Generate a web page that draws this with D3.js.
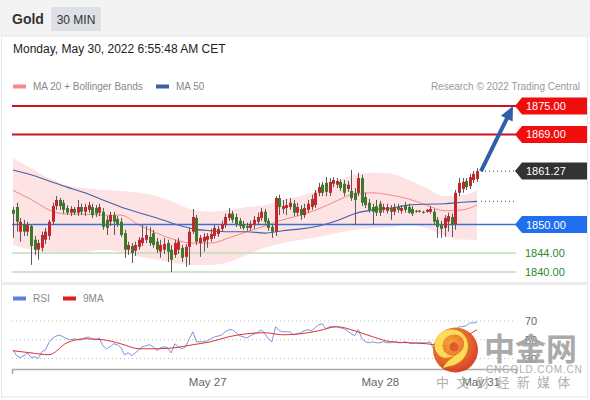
<!DOCTYPE html>
<html><head><meta charset="utf-8">
<script src="https://cdn.jsdelivr.net/npm/d3@7"></script>
<style>body{margin:0;background:#fff;} svg{display:block;font-family:"Liberation Sans",Arial,sans-serif;}</style>
</head><body><svg id="c" width="590" height="400"></svg>
<script>
// ---- DATA ----
const open=[1853.1,1853.7,1848.5,1850.1,1848.5,1849.7,1846.8,1844.7,1845.1,1846.8,
1847.6,1850.6,1853.9,1855.2,1854.6,1853.5,1852.5,1853.3,1852.5,1853.7,
1852.7,1853.1,1853.7,1853.5,1852.5,1852.7,1851.0,1850.6,1852.0,1851.2,
1850.6,1848.2,1844.7,1845.5,1844.5,1845.3,1846.1,1846.8,1847.4,1848.2,
1846.4,1844.3,1844.7,1846.1,1844.7,1843.6,1844.7,1845.1,1843.2,1845.3,
1848.5,1851.4,1846.1,1846.4,1846.8,1847.0,1847.6,1848.0,1849.1,1849.9,
1851.4,1852.3,1851.6,1850.8,1850.1,1849.7,1849.3,1849.9,1850.6,1851.4,
1852.7,1850.8,1849.5,1848.5,1855.6,1853.3,1853.5,1853.7,1854.4,1852.5,
1853.3,1852.0,1853.1,1853.7,1854.1,1856.7,1858.4,1858.8,1856.7,1858.6,
1858.4,1859.0,1858.6,1857.5,1857.1,1856.7,1856.7,1859.8,1855.8,1854.6,
1853.7,1853.9,1854.4,1853.1,1852.9,1853.5,1852.7,1853.7,1852.9,1854.1,
1853.7,1853.3,1852.9,1852.7,1852.7,1852.7,1852.7,1852.7,1851.0,1849.9,
1849.3,1850.6,1851.6,1850.1,1856.7,1857.5,1859.2,1858.1,1859.4,1859.6];
const high=[1853.7,1854.6,1851.4,1851.0,1850.6,1850.1,1847.6,1846.8,1848.5,1849.3,
1851.0,1854.6,1856.0,1855.6,1855.2,1854.1,1853.9,1853.7,1855.2,1854.4,
1854.4,1854.8,1854.4,1854.1,1854.4,1853.5,1851.8,1852.7,1852.7,1851.8,
1851.4,1848.9,1846.4,1846.1,1846.4,1847.4,1849.9,1849.7,1849.5,1848.9,
1847.2,1846.8,1847.2,1846.8,1845.7,1846.8,1847.2,1845.7,1845.9,1849.3,
1853.3,1852.0,1847.8,1848.2,1848.2,1849.1,1849.9,1849.7,1850.8,1852.3,
1853.5,1852.9,1852.3,1851.4,1850.8,1850.4,1850.8,1851.8,1852.5,1853.5,
1853.3,1851.4,1850.1,1856.0,1856.3,1855.2,1855.4,1855.6,1855.2,1854.6,
1854.1,1854.4,1855.2,1856.3,1857.3,1858.8,1859.0,1860.0,1859.8,1860.0,
1859.8,1859.6,1859.4,1859.2,1861.5,1857.7,1860.9,1860.5,1856.7,1855.4,
1854.4,1855.2,1855.0,1854.4,1854.4,1854.1,1854.4,1854.4,1854.1,1854.8,
1854.4,1853.9,1853.1,1853.1,1852.9,1853.3,1853.9,1853.3,1851.6,1850.8,
1852.0,1852.5,1852.3,1857.3,1859.8,1859.8,1859.8,1860.7,1861.3,1861.9];
const low=[1847.2,1848.5,1846.4,1847.6,1847.6,1841.5,1843.6,1842.6,1844.3,1845.9,
1846.8,1849.9,1853.1,1853.1,1852.3,1852.0,1851.8,1852.0,1851.8,1852.0,
1851.8,1852.5,1851.4,1851.6,1851.8,1848.9,1847.8,1849.7,1847.8,1849.5,
1847.4,1843.0,1843.6,1841.9,1843.4,1844.7,1845.5,1846.1,1845.5,1845.1,
1844.0,1843.0,1843.8,1842.1,1840.0,1843.0,1843.8,1842.1,1841.1,1841.5,
1848.0,1845.7,1843.2,1844.3,1845.1,1846.4,1847.0,1847.4,1848.5,1849.3,
1850.8,1850.4,1849.5,1849.1,1848.9,1848.7,1848.7,1849.1,1849.9,1850.8,
1849.9,1848.7,1847.2,1847.6,1852.0,1852.3,1852.0,1853.1,1851.8,1851.8,
1851.0,1851.4,1852.5,1853.1,1853.5,1856.0,1856.0,1856.0,1856.0,1857.9,
1857.7,1857.1,1856.0,1856.9,1855.0,1849.9,1856.0,1853.9,1853.5,1852.5,
1849.9,1851.8,1851.8,1852.5,1852.3,1851.0,1852.0,1852.5,1852.3,1852.5,
1852.3,1851.8,1852.5,1852.5,1852.3,1852.5,1852.3,1849.9,1847.2,1847.2,
1847.4,1848.5,1847.4,1848.9,1856.0,1856.7,1857.3,1857.5,1858.8,1859.0];
const close=[1852.3,1850.6,1850.6,1848.5,1849.9,1845.5,1844.7,1846.1,1847.8,1848.5,
1850.6,1853.9,1855.2,1853.9,1853.1,1852.5,1853.3,1852.5,1853.7,1852.7,
1853.7,1854.1,1852.0,1852.3,1853.7,1849.5,1849.3,1852.0,1850.6,1850.1,
1847.8,1844.7,1845.7,1844.0,1845.7,1846.8,1847.2,1847.8,1846.1,1845.7,
1844.7,1845.7,1845.9,1844.3,1842.6,1846.1,1846.4,1843.0,1845.3,1848.5,
1851.6,1846.4,1847.2,1847.4,1847.6,1848.0,1849.3,1849.1,1850.1,1851.6,
1852.3,1851.0,1850.1,1849.7,1849.3,1849.3,1850.1,1851.0,1851.6,1852.7,
1850.6,1849.3,1848.5,1855.6,1853.7,1853.9,1854.1,1854.6,1852.5,1853.7,
1852.0,1853.5,1854.4,1855.4,1856.7,1857.9,1856.7,1856.9,1859.0,1859.4,
1859.2,1857.7,1856.7,1858.4,1855.6,1855.2,1859.8,1854.6,1854.1,1853.1,
1852.7,1852.5,1852.5,1853.7,1853.7,1852.7,1853.7,1853.1,1853.5,1853.1,
1852.5,1852.3,1852.7,1852.9,1852.5,1853.1,1853.3,1850.6,1849.5,1849.1,
1851.4,1851.8,1849.9,1856.7,1858.8,1859.0,1857.9,1860.0,1860.7,1861.27];

// indicator samples (candle index of each sample)
const indIdx=[0,5,10,15,20,25,30,35,40,45,50,55,60,65,70,75,80,85,90,95,100,105,110,115,120,125,129];
const ma20=[1857.2,1855.3,1853.1,1852.2,1852.2,1852.0,1852.0,1849.9,1848.2,1846.8,1846.1,1846.1,1847.2,1848.5,1849.7,1851.0,1852.0,1853.3,1855.0,1856.5,1856.7,1856.2,1855.4,1854.1,1852.9,1853.1,1854.1];
const bbUpper=[1864.0,1861.9,1859.8,1858.3,1857.7,1857.3,1857.1,1856.7,1856.0,1854.6,1853.1,1852.7,1853.1,1853.7,1854.1,1855.2,1856.0,1857.3,1859.0,1860.5,1860.9,1860.7,1859.4,1857.7,1856.0,1856.2,1857.3];
const bbLower=[1845.7,1844.7,1844.2,1844.0,1844.2,1844.7,1844.2,1843.2,1842.6,1841.9,1841.5,1841.5,1842.1,1843.6,1845.1,1846.1,1846.8,1847.4,1848.2,1848.9,1849.3,1849.5,1849.9,1849.3,1847.6,1846.8,1846.8];
const ma50=[1861.5,1860.5,1859.2,1857.9,1856.7,1855.2,1853.7,1852.5,1851.4,1850.1,1849.1,1848.7,1848.5,1848.5,1848.2,1848.7,1849.1,1849.7,1850.8,1852.3,1853.1,1853.5,1854.1,1854.3,1854.4,1854.7,1854.9];

const rsi=[39.3,33,31,33,36,31,32,30,37,39,
47,52,54,55,53,51,50,51,50,50,
52,53,51,50,52,43.6,40.4,42.5,45.7,44.7,
41.5,34,36,33,36,39.3,42.5,43.6,44.7,42.5,
38.3,41.5,42.5,41.5,36,45.7,42.5,40.4,42.5,51,
58.5,47.9,47.9,47.9,48.9,51,53,54,55,58.5,
60.7,60.7,57.5,54.3,53.2,52,54.3,56.4,57.5,60.7,
56.4,51,47.9,63.9,59.6,58.5,58.5,58.5,55.3,56.4,
57.5,59.6,60.7,59.6,62.8,66,67,61.7,63.9,63.9,
63.9,62.8,61.7,59.6,56.4,54.3,60.7,51,47.9,46.8,
47.9,46.8,46.8,47.9,46.8,46.8,47.9,46.8,46.8,47.9,
46.8,45.7,46.8,46.8,46.8,46.8,47.9,39.3,35,33,
39.3,41.5,39.3,60.7,63.9,63.9,65,68,68,69];
const rsiMA=[38.3,36,34,46.8,51,50,45.7,40.4,40.4,41.5,44.7,47.9,53.2,56.4,57.5,55.3,56.4,59.6,63.9,59.6,53.2,47.9,46.8,45.7,43.6,52,60.7];

const resistances=[1875,1869];
const pivot=[1850];
const supports=[1844,1840];
const lastPrice=1861.27;
const targetPrice=1875;
const targetIndex=139;
const rsiLevels=[70,50,30];
const dateTickIdx=[54,102,130];
const dateTickLabels=["May 27","May 28","May 31"];

// ---- DRAW ----
const svg=d3.select('#c');
const W=590,H=400;
const plotL=12, plotR=516;
const x=d3.scaleLinear().domain([0,129]).range([13,477]);
const y=d3.scaleLinear().domain([1840,1875]).range([272,106]);
const yr=d3.scaleLinear().domain([30,70]).range([358.5,321]);

// header & frame
svg.append('rect').attr('x',0).attr('y',0).attr('width',W).attr('height',36).attr('fill','#f3f3f3');
svg.append('rect').attr('x',1.5).attr('y',36).attr('width',586).attr('height',361).attr('fill','#fff').attr('stroke','#e6e6e6');
svg.append('line').attr('x1',1.5).attr('x2',587.5).attr('y1',283.5).attr('y2',283.5).attr('stroke','#ececec').attr('stroke-width',3);

svg.append('text').attr('x',12).attr('y',24).attr('font-size',14).attr('font-weight','bold').attr('fill','#333').text('Gold');
svg.append('rect').attr('x',51).attr('y',7).attr('width',50).attr('height',24).attr('fill','#dde0e5');
svg.append('text').attr('x',76).attr('y',23.5).attr('text-anchor','middle').attr('font-size',12).attr('fill','#333').text('30 MIN');
svg.append('text').attr('x',13).attr('y',52.5).attr('font-size',12).attr('fill','#222').text('Monday, May 30, 2022 6:55:48 AM CET');

// legends
function legend(g, items, yy){
  items.forEach(it=>{
    g.append('rect').attr('x',it.x).attr('y',yy-2).attr('width',13).attr('height',4).attr('fill',it.c);
    g.append('text').attr('x',it.x+20).attr('y',yy+3.6).attr('font-size',10).attr('fill','#888').text(it.t);
  });
}
legend(svg,[{x:13,c:'#f58a8a',t:'MA 20 + Bollinger Bands'},{x:156,c:'#3f5fa3',t:'MA 50'}],86.5);
svg.append('text').attr('x',580).attr('y',90).attr('text-anchor','end').attr('font-size',10).attr('fill','#9a9a9a').text('Research \u00a9 2022 Trading Central');
legend(svg,[{x:13,c:'#5b80dc',t:'RSI'},{x:63,c:'#e31c1c',t:'9MA'}],298.5);

// bollinger band
const band=d3.area().x((d,i)=>x(indIdx[i])).y0((d,i)=>y(bbLower[i])).y1((d,i)=>y(bbUpper[i])).curve(d3.curveMonotoneX);
svg.append('path').datum(indIdx).attr('d',band).attr('fill','#fde3e3');

// level lines
const g=svg.append('g');
supports.forEach(v=>g.append('line').attr('x1',plotL).attr('x2',plotR).attr('y1',y(v)).attr('y2',y(v)).attr('stroke','#bddfb5').attr('stroke-width',1.5));
resistances.forEach(v=>g.append('line').attr('x1',plotL).attr('x2',plotR).attr('y1',y(v)).attr('y2',y(v)).attr('stroke','#c8141e').attr('stroke-width',2));

// MA lines
const line=arr=>d3.line().x((d,i)=>x(indIdx[i])).y((d,i)=>y(arr[i])).curve(d3.curveMonotoneX);
svg.append('path').datum(indIdx).attr('d',line(ma20)).attr('fill','none').attr('stroke','#f08a8a').attr('stroke-width',1);
svg.append('path').datum(indIdx).attr('d',line(ma50)).attr('fill','none').attr('stroke','#4462a8').attr('stroke-width',1.1);

pivot.forEach(v=>svg.append('line').attr('x1',plotL).attr('x2',plotR).attr('y1',y(v)).attr('y2',y(v)).attr('stroke','#3d6fd3').attr('stroke-width',1.5));

// candles
const idx=d3.range(close.length);
const cg=svg.append('g');
cg.selectAll('line.w').data(idx).join('line').attr('class','w')
  .attr('x1',i=>Math.round(x(i))+0.5).attr('x2',i=>Math.round(x(i))+0.5)
  .attr('y1',i=>y(high[i])).attr('y2',i=>y(low[i])).attr('stroke','#5a5a5a').attr('stroke-width',1);
cg.selectAll('rect').data(idx).join('rect')
  .attr('x',i=>Math.round(x(i))-1)
  .attr('width',3)
  .attr('y',i=>y(Math.max(open[i],close[i])))
  .attr('height',i=>Math.max(1,Math.abs(y(open[i])-y(close[i]))))
  .attr('fill',i=>close[i]>=open[i]?'#c4262e':'#3c7a2b');

// dotted extensions
const lastX=x(close.length-1);
svg.append('line').attr('x1',lastX+4).attr('x2',plotR).attr('y1',y(lastPrice)).attr('y2',y(lastPrice)).attr('stroke','#444').attr('stroke-dasharray','1,3');
svg.append('line').attr('x1',lastX+4).attr('x2',plotR).attr('y1',y(ma50[ma50.length-1])).attr('y2',y(ma50[ma50.length-1])).attr('stroke','#444').attr('stroke-dasharray','1,3');

// arrow
(function(){
  const x0=lastX+4,y0=y(lastPrice),x1=x(targetIndex),y1=y(targetPrice);
  const dx=x1-x0,dy=y1-y0,L=Math.hypot(dx,dy),ux=dx/L,uy=dy/L;
  const hl=14,hw=6.5;
  const bx=x1-ux*hl,by=y1-uy*hl;
  svg.append('line').attr('x1',x0).attr('y1',y0).attr('x2',bx+ux*2).attr('y2',by+uy*2).attr('stroke','#2f5fa9').attr('stroke-width',4);
  svg.append('polygon').attr('points',[[x1,y1],[bx-uy*hw,by+ux*hw],[bx+uy*hw,by-ux*hw]].map(p=>p.join(',')).join(' ')).attr('fill','#2f5fa9');
})();

// tags
function tag(v,fill,txt){
  const yy=y(v);
  svg.append('polygon').attr('points',[[515,yy],[522,yy-8.5],[587,yy-8.5],[587,yy+8.5],[522,yy+8.5]].map(p=>p.join(',')).join(' ')).attr('fill',fill);
  svg.append('text').attr('x',526).attr('y',yy+4).attr('font-size',11).attr('fill','#fff').text(txt);
}
resistances.forEach(v=>tag(v,'#f20d0d',v.toFixed(2)));
tag(lastPrice,'#333333',lastPrice.toFixed(2));
pivot.forEach(v=>tag(v,'#1f6fef',v.toFixed(2)));
supports.forEach(v=>svg.append('text').attr('x',525).attr('y',y(v)+4).attr('font-size',11).attr('fill','#2a8a2a').text(v.toFixed(2)));

// RSI panel
rsiLevels.forEach(v=>{
  svg.append('line').attr('x1',plotL).attr('x2',plotR).attr('y1',yr(v)).attr('y2',yr(v)).attr('stroke','#bbb').attr('stroke-dasharray','1,3');
  svg.append('text').attr('x',525).attr('y',yr(v)+4).attr('font-size',11).attr('fill','#666').text(v);
});
svg.append('path').datum(rsi).attr('d',d3.line().x((d,i)=>x(i)).y(d=>yr(d))).attr('fill','none').attr('stroke','#7b96e0').attr('stroke-width',1);
svg.append('path').datum(indIdx).attr('d',d3.line().x((d,i)=>x(indIdx[i])).y((d,i)=>yr(rsiMA[i])).curve(d3.curveMonotoneX)).attr('fill','none').attr('stroke','#e03030').attr('stroke-width',1);

// time axis
const xa=x.copy().domain([x.invert(plotL),x.invert(plotR)]).range([plotL,plotR]);
const ax=svg.append('g').attr('transform','translate(0,369)').call(d3.axisBottom(xa).tickValues(dateTickIdx).tickFormat((d,i)=>dateTickLabels[i]).tickSizeInner(0).tickSizeOuter(5).tickPadding(9));
ax.select('.domain').attr('stroke','#aaa').attr('stroke-width',1.5);
ax.selectAll('text').attr('font-size',11.5).attr('fill','#666').attr('font-family','"Liberation Sans",Arial,sans-serif');

// watermark
const wm=svg.append('g').attr('opacity',0.92);
const defs=svg.append('defs');
const rg=defs.append('radialGradient').attr('id','lg').attr('cx','40%').attr('cy','35%').attr('r','70%');
rg.append('stop').attr('offset','0%').attr('stop-color','#f6a126');
rg.append('stop').attr('offset','100%').attr('stop-color','#d42c17');
wm.append('circle').attr('cx',455.5).attr('cy',350).attr('r',22.5).attr('fill','url(#lg)');
wm.append('path').attr('d','M455,356 c-9,0 -14,-6 -12,-13 c2,-8 12,-11 18,-6 c5,4 4,12 -2,16 c-5,4 -13,8 -16,15 c7,-2 14,-3 19,-8 c7,-7 8,-18 2,-25 c-7,-8 -21,-7 -27,2 c-5,8 -2,19 8,21 z')
  .attr('fill','#ffd84a');
wm.append('circle').attr('cx',454).attr('cy',347).attr('r',4.5).attr('fill','#e0501c');
wm.append('text').attr('x',484).attr('y',360).attr('font-size',31).attr('font-weight','bold').attr('font-family','"Noto Sans CJK SC"').attr('fill','#a3a3a3').text('中金网');
wm.append('text').attr('x',486).attr('y',372.5).attr('font-size',10).attr('letter-spacing',0.8).attr('fill','#a8a8a8').text('CNGOLD.COM.CN');
wm.append('text').attr('x',436).attr('y',387).attr('font-size',13).attr('letter-spacing',7.2).attr('font-family','"Noto Sans CJK SC"').attr('fill','#aaa').text('中文财经新媒体');
</script></body></html>
